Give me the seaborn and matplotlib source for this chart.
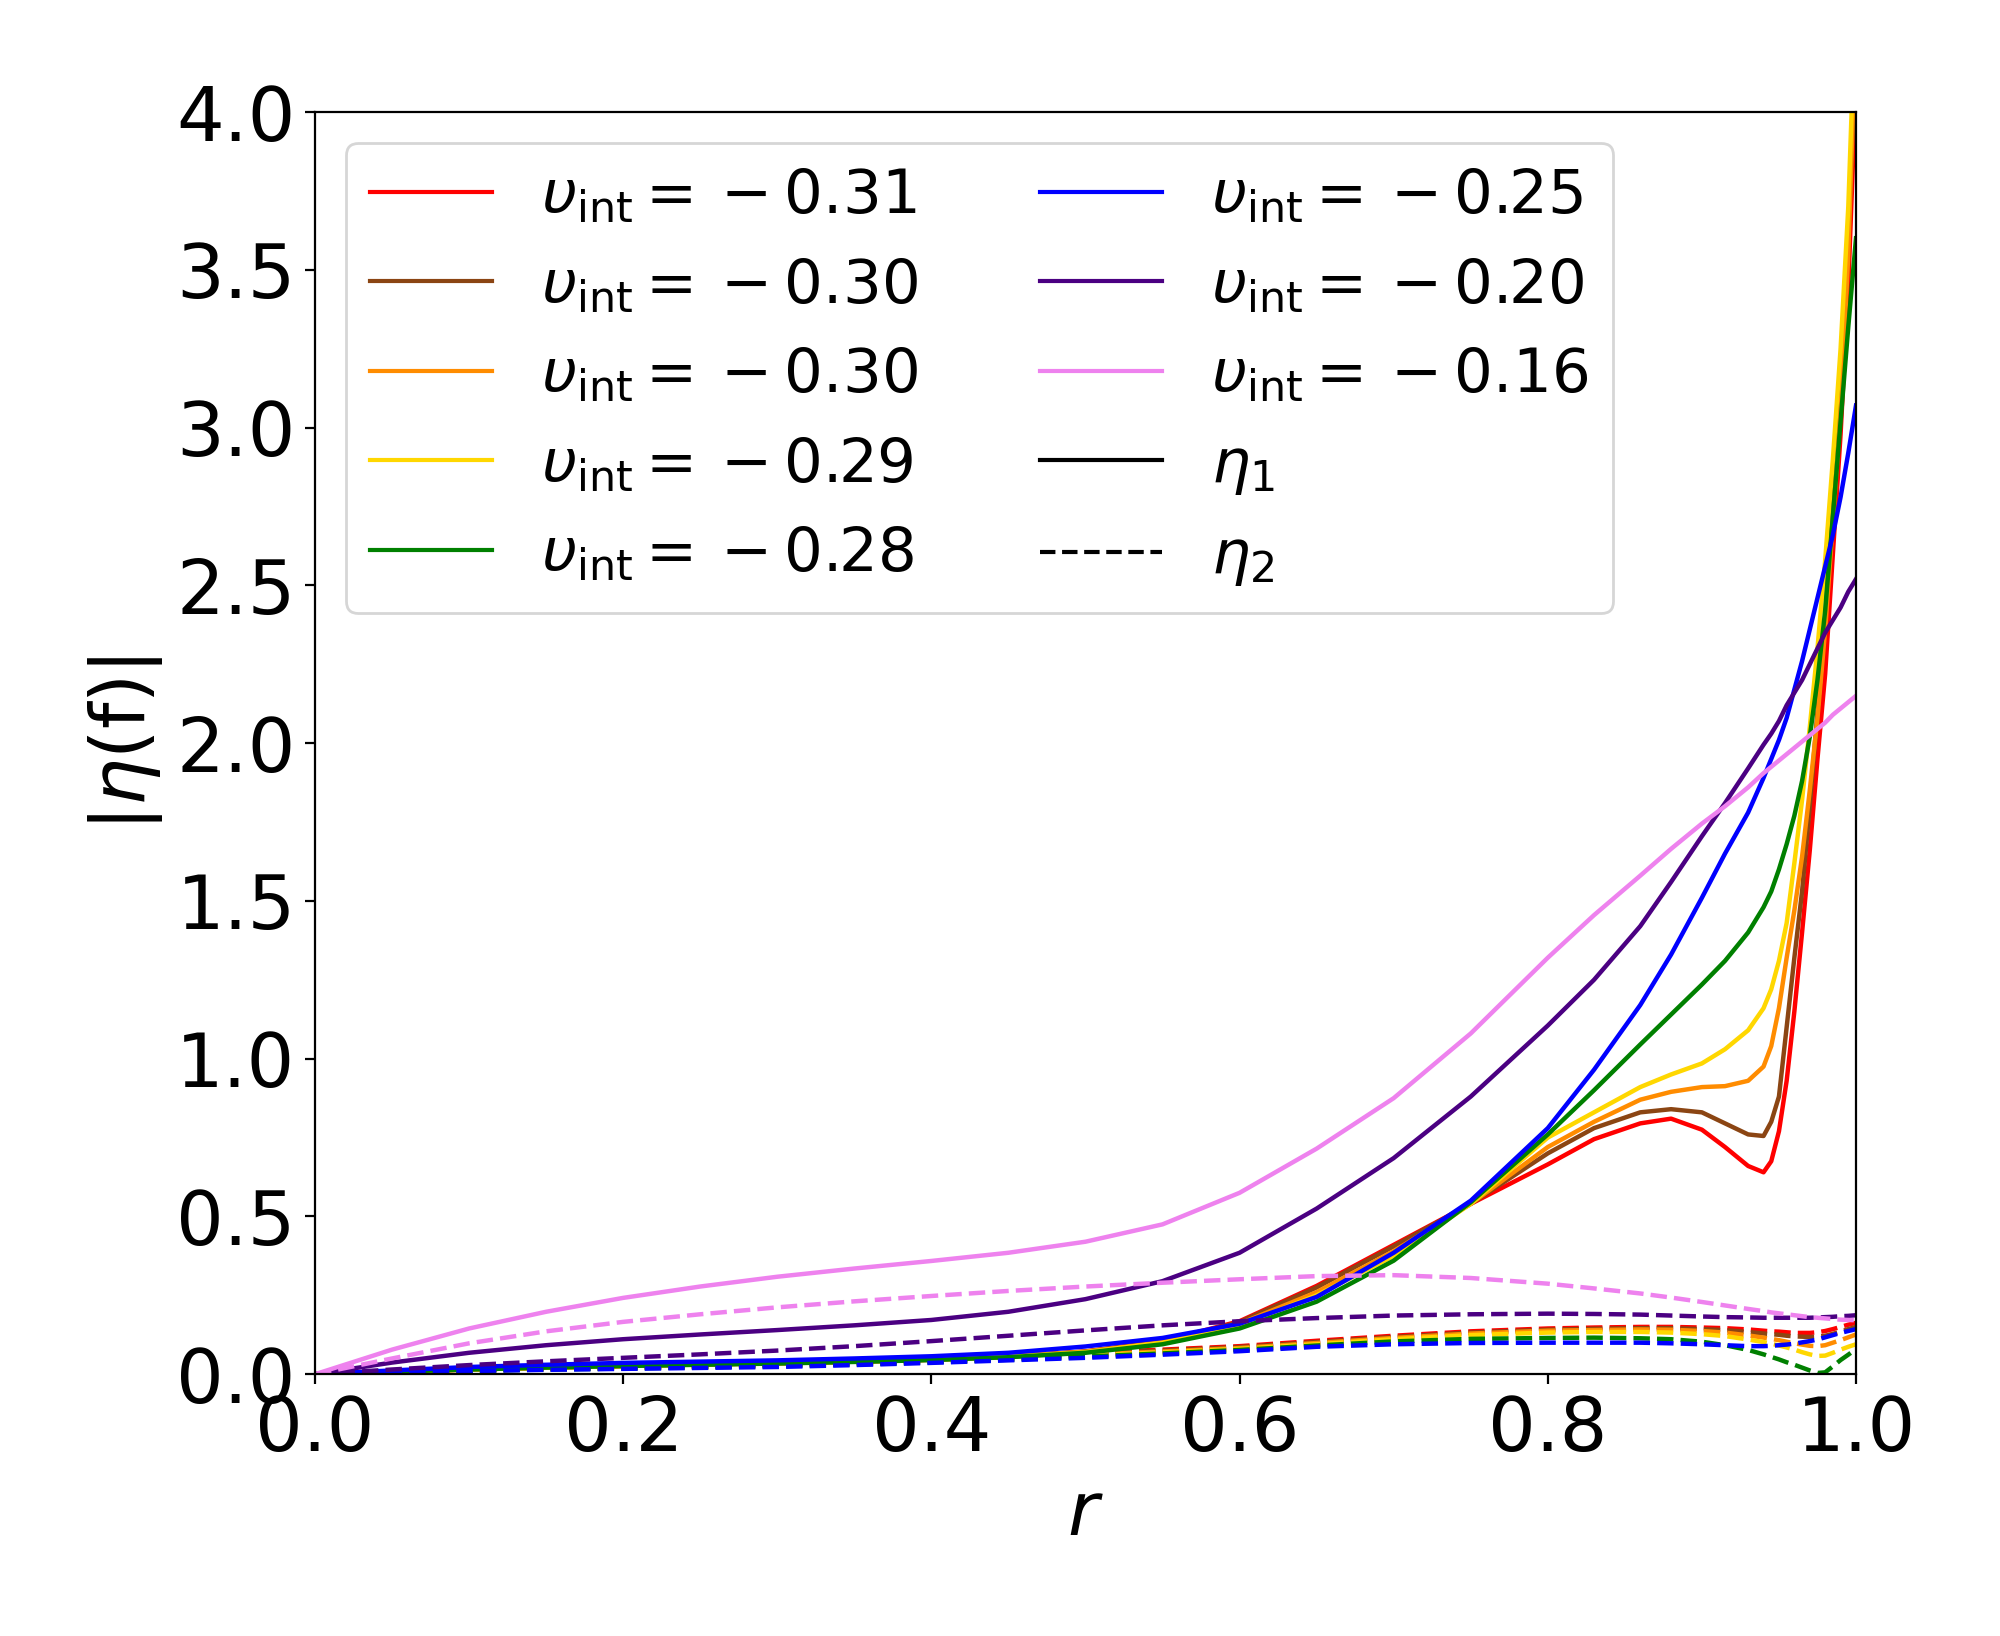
import numpy as np
import matplotlib
matplotlib.use("Agg")
import matplotlib.pyplot as plt
from matplotlib.lines import Line2D
import seaborn as sns

# radial grid used for all curves
r = [0.0, 0.05, 0.1, 0.15, 0.2, 0.25, 0.3, 0.35, 0.4, 0.45, 0.5, 0.55, 0.6, 0.65, 0.7, 0.75,
     0.8, 0.83, 0.86, 0.88, 0.9, 0.915, 0.93, 0.94, 0.945, 0.95, 0.955, 0.96, 0.965, 0.97,
     0.975, 0.98, 0.985, 0.99, 0.995, 1.0]

labels = ["-0.31", "-0.30", "-0.30", "-0.29", "-0.28", "-0.25", "-0.20", "-0.16"]
colors = ["red", "saddlebrown", "darkorange", "gold", "green", "blue", "indigo", "violet"]

# |eta_1| (solid)
eta1_031 = [0, 0.008, 0.015, 0.021, 0.026, 0.031, 0.035, 0.040, 0.046, 0.056, 0.072, 0.105,
            0.168, 0.28, 0.41, 0.54, 0.665, 0.745, 0.795, 0.81, 0.775, 0.72, 0.66, 0.64,
            0.675, 0.77, 0.93, 1.15, 1.40, 1.66, 1.95, 2.22, 2.60, 2.98, 3.45, 4.1]
eta1_030a = [0, 0.008, 0.015, 0.021, 0.026, 0.031, 0.035, 0.040, 0.046, 0.056, 0.072, 0.104,
             0.165, 0.275, 0.405, 0.54, 0.70, 0.78, 0.83, 0.84, 0.83, 0.795, 0.76, 0.755,
             0.80, 0.88, 1.10, 1.32, 1.53, 1.80, 2.10, 2.40, 2.80, 3.15, 3.6, 4.2]
eta1_030b = [0, 0.008, 0.015, 0.021, 0.026, 0.031, 0.035, 0.040, 0.046, 0.056, 0.071, 0.102,
             0.16, 0.26, 0.39, 0.54, 0.72, 0.80, 0.87, 0.895, 0.91, 0.913, 0.93, 0.975,
             1.04, 1.16, 1.32, 1.47, 1.64, 1.85, 2.08, 2.36, 2.70, 3.05, 3.55, 4.3]
eta1_029 = [0, 0.008, 0.015, 0.021, 0.026, 0.031, 0.035, 0.040, 0.046, 0.055, 0.070, 0.100,
            0.155, 0.25, 0.375, 0.54, 0.75, 0.83, 0.91, 0.95, 0.985, 1.03, 1.09, 1.16,
            1.22, 1.31, 1.43, 1.62, 1.82, 2.05, 2.30, 2.58, 2.90, 3.25, 3.7, 4.4]
eta1_028 = [0, 0.008, 0.015, 0.021, 0.026, 0.030, 0.034, 0.039, 0.045, 0.054, 0.068, 0.095,
            0.145, 0.23, 0.36, 0.545, 0.76, 0.90, 1.045, 1.14, 1.235, 1.31, 1.40, 1.48,
            1.53, 1.60, 1.68, 1.77, 1.88, 2.02, 2.20, 2.42, 2.72, 3.02, 3.32, 3.6]
eta1_025 = [0, 0.012, 0.023, 0.030, 0.036, 0.040, 0.044, 0.050, 0.057, 0.068, 0.088, 0.115,
            0.16, 0.245, 0.385, 0.55, 0.78, 0.965, 1.17, 1.33, 1.51, 1.65, 1.78, 1.89,
            1.95, 2.01, 2.08, 2.17, 2.26, 2.36, 2.46, 2.56, 2.66, 2.78, 2.92, 3.07]
eta1_020 = [0, 0.037, 0.068, 0.092, 0.111, 0.126, 0.140, 0.155, 0.172, 0.198, 0.238, 0.295,
            0.385, 0.525, 0.685, 0.88, 1.105, 1.25, 1.42, 1.56, 1.705, 1.81, 1.92, 1.995,
            2.03, 2.07, 2.12, 2.16, 2.20, 2.25, 2.30, 2.35, 2.39, 2.43, 2.48, 2.52]
eta1_016 = [0, 0.078, 0.145, 0.198, 0.242, 0.278, 0.309, 0.335, 0.359, 0.385, 0.42, 0.475,
            0.575, 0.715, 0.875, 1.08, 1.32, 1.455, 1.58, 1.665, 1.745, 1.80, 1.86, 1.905,
            1.925, 1.945, 1.965, 1.985, 2.005, 2.025, 2.045, 2.065, 2.09, 2.11, 2.13, 2.15]

# |eta_2| (dashed)
eta2_031 = [0, 0.007, 0.013, 0.018, 0.022, 0.026, 0.031, 0.038, 0.046, 0.056, 0.068, 0.078,
            0.089, 0.106, 0.122, 0.136, 0.145, 0.148, 0.150, 0.150, 0.148, 0.146, 0.142, 0.138,
            0.136, 0.135, 0.133, 0.131, 0.131, 0.131, 0.133, 0.137, 0.143, 0.150, 0.157, 0.163]
eta2_030a = [0, 0.007, 0.012, 0.017, 0.021, 0.025, 0.030, 0.036, 0.044, 0.053, 0.065, 0.075,
             0.086, 0.102, 0.118, 0.132, 0.141, 0.144, 0.146, 0.146, 0.143, 0.140, 0.134, 0.129,
             0.127, 0.125, 0.122, 0.120, 0.119, 0.118, 0.119, 0.122, 0.128, 0.135, 0.143, 0.150]
eta2_030b = [0, 0.006, 0.012, 0.016, 0.020, 0.024, 0.029, 0.035, 0.042, 0.051, 0.062, 0.072,
             0.083, 0.099, 0.115, 0.129, 0.138, 0.140, 0.142, 0.141, 0.137, 0.132, 0.123, 0.116,
             0.112, 0.108, 0.103, 0.098, 0.094, 0.090, 0.089, 0.092, 0.100, 0.108, 0.117, 0.126]
eta2_029 = [0, 0.006, 0.011, 0.016, 0.019, 0.023, 0.027, 0.033, 0.040, 0.049, 0.059, 0.069,
            0.080, 0.095, 0.111, 0.124, 0.132, 0.134, 0.134, 0.132, 0.127, 0.121, 0.110, 0.102,
            0.097, 0.091, 0.085, 0.078, 0.070, 0.063, 0.058, 0.059, 0.068, 0.078, 0.087, 0.095]
eta2_028 = [0, 0.006, 0.011, 0.015, 0.018, 0.022, 0.026, 0.031, 0.038, 0.046, 0.056, 0.066,
            0.077, 0.091, 0.104, 0.112, 0.115, 0.116, 0.114, 0.111, 0.103, 0.092, 0.077, 0.063,
            0.055, 0.047, 0.038, 0.030, 0.021, 0.012, 0.004, 0.006, 0.025, 0.045, 0.062, 0.080]
eta2_025 = [0, 0.005, 0.010, 0.014, 0.017, 0.020, 0.023, 0.029, 0.036, 0.044, 0.052, 0.062,
            0.073, 0.087, 0.095, 0.099, 0.100, 0.100, 0.100, 0.098, 0.095, 0.092, 0.089, 0.089,
            0.090, 0.092, 0.094, 0.097, 0.101, 0.105, 0.110, 0.117, 0.124, 0.131, 0.137, 0.143]
eta2_020 = [0, 0.015, 0.029, 0.041, 0.052, 0.063, 0.075, 0.089, 0.105, 0.122, 0.139, 0.155,
            0.168, 0.178, 0.186, 0.190, 0.192, 0.191, 0.189, 0.186, 0.183, 0.181, 0.180, 0.179,
            0.179, 0.179, 0.179, 0.179, 0.179, 0.179, 0.180, 0.181, 0.182, 0.184, 0.185, 0.187]
eta2_016 = [0, 0.050, 0.098, 0.136, 0.166, 0.190, 0.212, 0.231, 0.248, 0.264, 0.278, 0.290,
            0.301, 0.311, 0.314, 0.305, 0.287, 0.272, 0.256, 0.243, 0.229, 0.218, 0.207, 0.200,
            0.196, 0.193, 0.190, 0.187, 0.184, 0.181, 0.179, 0.177, 0.175, 0.173, 0.172, 0.171]

eta1_all = [eta1_031, eta1_030a, eta1_030b, eta1_029, eta1_028, eta1_025, eta1_020, eta1_016]
eta2_all = [eta2_031, eta2_030a, eta2_030b, eta2_029, eta2_028, eta2_025, eta2_020, eta2_016]

fs = 27
plt.rcParams["font.family"] = ["DejaVu Sans"]
plt.rcParams["mathtext.fontset"] = "dejavusans"

fig = plt.figure(figsize=(10, 8.18), dpi=200)
ax = fig.add_axes([0.1575, 0.160, 0.7705, 0.7715])

for e1, e2, c in zip(eta1_all, eta2_all, colors):
    sns.lineplot(x=r, y=e1, color=c, linewidth=1.6, ax=ax, legend=False)
    sns.lineplot(x=r, y=e2, color=c, linewidth=1.6, linestyle="--", ax=ax, legend=False)

ax.set_xlim(0, 1.0)
ax.set_ylim(0, 4.0)
ax.set_xticks(np.arange(0, 1.01, 0.2))
ax.set_yticks(np.arange(0, 4.01, 0.5))
ax.set_xticklabels([f"{t:.1f}" for t in np.arange(0, 1.01, 0.2)])
ax.set_yticklabels([f"{t:.1f}" for t in np.arange(0, 4.01, 0.5)])
ax.tick_params(labelsize=fs)
ax.set_xlabel(r"$r$", fontsize=fs)
ax.set_ylabel(r"$|\eta(\mathrm{f})|$", fontsize=fs)

# legend: coloured solid lines per upsilon_int, black solid/dashed for eta_1 / eta_2
handles = [Line2D([], [], color=c, lw=1.5) for c in colors]
names = [r"$\upsilon_{\rm int}={}" + l + "$" for l in labels]
handles += [Line2D([], [], color="k", lw=1.5), Line2D([], [], color="k", lw=1.5, ls="--")]
names += [r"$\eta_1$", r"$\eta_2$"]
ax.legend(handles, names, loc="upper left", ncol=2, fontsize=22)

fig.savefig("out.png", dpi=200)
